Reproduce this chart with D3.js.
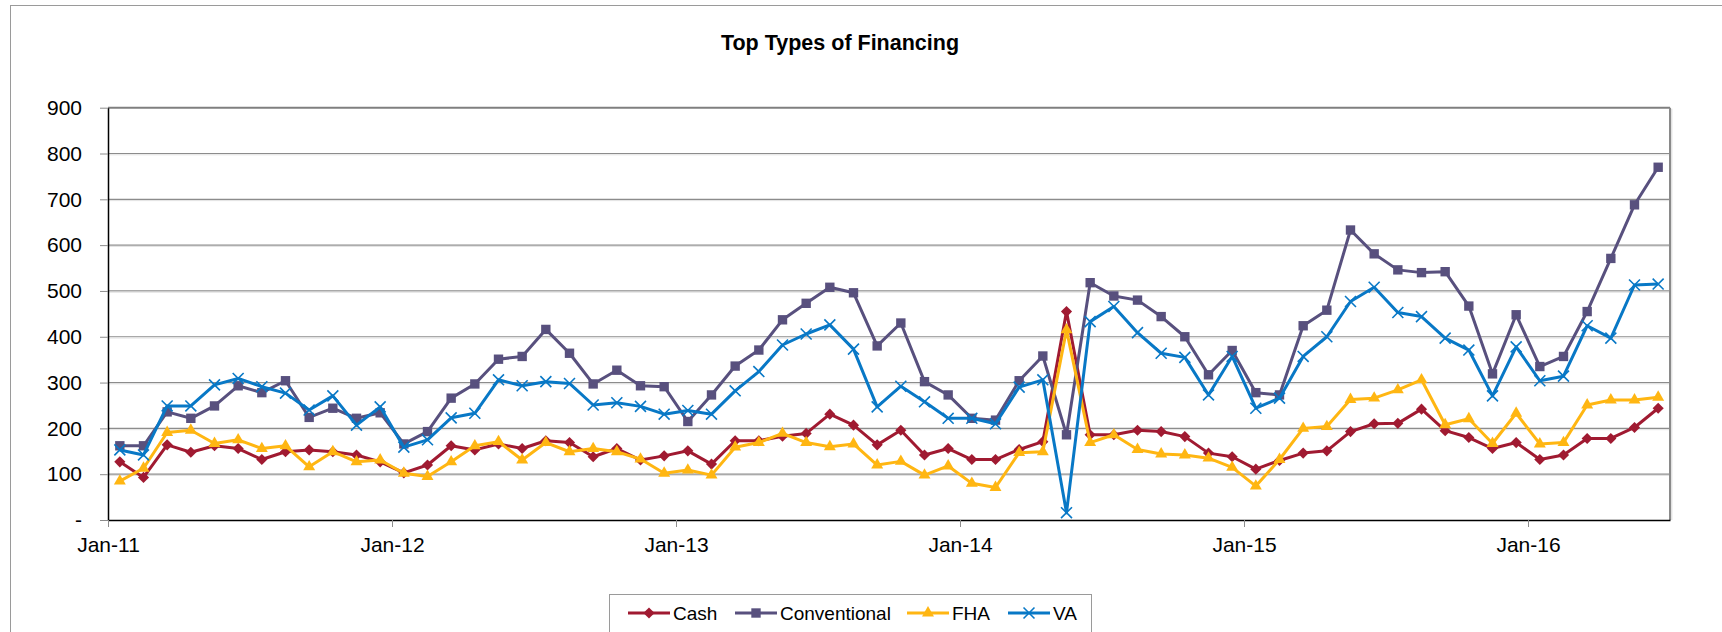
<!DOCTYPE html>
<html>
<head>
<meta charset="utf-8">
<script src="https://cdn.jsdelivr.net/npm/d3@7"></script>
<style>
  body { margin: 0; background: #fff; }
  svg { display: block; font-family: "Liberation Sans", Arial, sans-serif; }
</style>
</head>
<body>
<div id="chart"></div>
<script>
// monthly values, Jan-11 .. Jun-16
const cash = [127, 93, 164, 148, 162, 156, 132, 149, 153, 149, 142, 127,
  103, 120, 162, 153, 166, 156, 173, 169, 138, 156, 131, 140,
  151, 122, 173, 173, 183, 189, 231, 207, 164, 196, 142, 156,
  132, 132, 154, 171, 455, 186, 186, 196, 193, 182, 146, 138,
  111, 130, 146, 151, 193, 210, 211, 242, 195, 180, 156, 169,
  132, 142, 178, 178, 202, 244];
const conventional = [162, 162, 236, 222, 249, 293, 278, 304, 224, 244, 222, 234,
  166, 193, 266, 297, 351, 357, 416, 364, 297, 327, 293, 291,
  215, 273, 336, 371, 437, 473, 508, 496, 380, 430, 302, 273,
  222, 218, 304, 358, 186, 518, 489, 480, 444, 400, 317, 370,
  278, 273, 424, 458, 633, 581, 546, 540, 542, 467, 319, 448,
  335, 357, 455, 571, 688, 770];
const fha = [85, 113, 191, 196, 167, 175, 156, 162, 116, 149, 127, 131,
  102, 95, 127, 162, 171, 131, 169, 149, 156, 149, 133, 102,
  109, 98, 159, 169, 189, 169, 160, 166, 120, 128, 98, 118,
  80, 71, 147, 149, 415, 169, 186, 154, 144, 142, 135, 115,
  74, 132, 200, 204, 263, 266, 284, 306, 208, 221, 167, 233,
  166, 169, 251, 262, 262, 268];
const va = [153, 142, 249, 249, 295, 309, 291, 277, 240, 271, 207, 247,
  159, 175, 223, 233, 306, 293, 302, 298, 251, 256, 248, 231,
  239, 231, 282, 324, 382, 406, 426, 373, 247, 292, 258, 222,
  222, 210, 290, 306, 16, 433, 466, 409, 364, 355, 273, 357,
  244, 266, 357, 400, 477, 508, 453, 444, 397, 371, 271, 378,
  304, 314, 424, 397, 513, 515];

const seriesNames = ["Cash", "Conventional", "FHA", "VA"];
const yearLabels = ["Jan-11", "Jan-12", "Jan-13", "Jan-14", "Jan-15", "Jan-16"];
const yTicks = [0, 100, 200, 300, 400, 500, 600, 700, 800, 900];

const width = 1722, height = 632;
const plot = { left: 108, right: 1670, top: 107.7, bottom: 520 };

const svg = d3.select("#chart").append("svg")
    .attr("width", width)
    .attr("height", height);

// outer chart border
svg.append("rect")
    .attr("x", 10.5).attr("y", 5.5)
    .attr("width", width).attr("height", height)
    .attr("fill", "none")
    .attr("stroke", "#9a9a9a");

svg.append("text")
    .attr("x", 840).attr("y", 50)
    .attr("text-anchor", "middle")
    .style("font-size", "21.5px")
    .style("font-weight", "bold")
    .text("Top Types of Financing");

const nMonths = cash.length;
const x = d3.scaleLinear().domain([0, nMonths]).range([plot.left, plot.right]);
const y = d3.scaleLinear().domain([0, 900]).range([plot.bottom, plot.top]);

// gridlines
svg.append("g")
    .selectAll("line")
    .data(yTicks.filter(d => d > 0))
    .enter().append("line")
    .attr("x1", plot.left).attr("x2", plot.right)
    .attr("y1", d => y(d)).attr("y2", d => y(d))
    .attr("stroke", d => d === 900 ? "#7f7f7f" : "#8c8c8c")
    .attr("stroke-width", d => d === 900 ? 2 : 1.2);

svg.append("g")
    .selectAll("line")
    .data(yTicks.filter(d => d > 0 && d < 900))
    .enter().append("line")
    .attr("x1", plot.left).attr("x2", plot.right)
    .attr("y1", d => y(d) + 1.3).attr("y2", d => y(d) + 1.3)
    .attr("stroke", "#e2e2e2")
    .attr("stroke-width", 1);

// right border of plot area
svg.append("line")
    .attr("x1", plot.right).attr("x2", plot.right)
    .attr("y1", plot.top).attr("y2", plot.bottom)
    .attr("stroke", "#8a8a8a").attr("stroke-width", 2);
svg.append("line")
    .attr("x1", plot.right + 1.8).attr("x2", plot.right + 1.8)
    .attr("y1", plot.top + 1).attr("y2", plot.bottom)
    .attr("stroke", "#d6d6d6").attr("stroke-width", 1);

// y axis
const yAxis = d3.axisLeft(y)
    .tickValues(yTicks)
    .tickSize(8)
    .tickSizeOuter(0)
    .tickPadding(18)
    .tickFormat(d => d === 0 ? "-" : d);

const gy = svg.append("g")
    .attr("transform", `translate(${plot.left},0)`)
    .call(yAxis);
gy.select(".domain").attr("stroke", "#000").attr("stroke-width", 1.5);
gy.selectAll(".tick line").attr("stroke", "#8c8c8c");
gy.selectAll("text").style("font-size", "21px").attr("fill", "#000");

// x axis
const xAxis = d3.axisBottom(x)
    .tickValues([0, 12, 24, 36, 48, 60])
    .tickSize(7)
    .tickSizeOuter(0)
    .tickPadding(10)
    .tickFormat((d, i) => yearLabels[i]);

const gx = svg.append("g")
    .attr("transform", `translate(0,${plot.bottom})`)
    .call(xAxis);
gx.select(".domain").attr("stroke", "#000").attr("stroke-width", 1.5);
gx.selectAll(".tick line").attr("stroke", "#8c8c8c");
gx.selectAll("text").style("font-size", "21px").attr("fill", "#000");

// series
const series = [
    { name: seriesNames[0], values: cash, color: "#A01A31", symbol: "diamond" },
    { name: seriesNames[1], values: conventional, color: "#58507E", symbol: "square" },
    { name: seriesNames[2], values: fha, color: "#FFB612", symbol: "triangle" },
    { name: seriesNames[3], values: va, color: "#0878C6", symbol: "x" }
];

function drawMarker(g, s) {
    if (s.symbol === "diamond") {
        g.append("path").attr("d", d3.symbol(d3.symbolSquare, 62)())
            .attr("transform", "rotate(45)").attr("fill", s.color);
    } else if (s.symbol === "square") {
        g.append("path").attr("d", d3.symbol(d3.symbolSquare, 88)())
            .attr("fill", s.color);
    } else if (s.symbol === "triangle") {
        g.append("path").attr("d", d3.symbol(d3.symbolTriangle, 62)())
            .attr("fill", s.color);
    } else {
        g.append("path").attr("d", d3.symbol(d3.symbolX, 80)())
            .attr("fill", "none").attr("stroke", s.color).attr("stroke-width", 1.6);
    }
}

const line = d3.line()
    .x((d, i) => x(i + 0.5))
    .y(d => y(d));

series.forEach(s => {
    const g = svg.append("g");
    g.append("path")
        .datum(s.values)
        .attr("d", line)
        .attr("fill", "none")
        .attr("stroke", s.color)
        .attr("stroke-width", 3)
        .attr("stroke-linejoin", "round");
    g.selectAll("g.m")
        .data(s.values)
        .enter().append("g")
        .attr("class", "m")
        .attr("transform", (d, i) => `translate(${x(i + 0.5)},${y(d)})`)
        .each(function () { drawMarker(d3.select(this), s); });
});

// legend
const legend = svg.append("g");
legend.append("rect")
    .attr("x", 609.5).attr("y", 594.5)
    .attr("width", 482).attr("height", 60)
    .attr("fill", "#fff")
    .attr("stroke", "#9a9a9a");

const legendPos = [628, 735, 907, 1008];
series.forEach((s, i) => {
    const item = legend.append("g").attr("transform", `translate(${legendPos[i]},613)`);
    item.append("line")
        .attr("x1", 0).attr("x2", 42)
        .attr("stroke", s.color).attr("stroke-width", 3);
    drawMarker(item.append("g").attr("transform", "translate(21,0)"), s);
    item.append("text")
        .attr("x", 45).attr("y", 0).attr("dy", "0.36em")
        .style("font-size", "19px")
        .text(s.name);
});
</script>
</body>
</html>
